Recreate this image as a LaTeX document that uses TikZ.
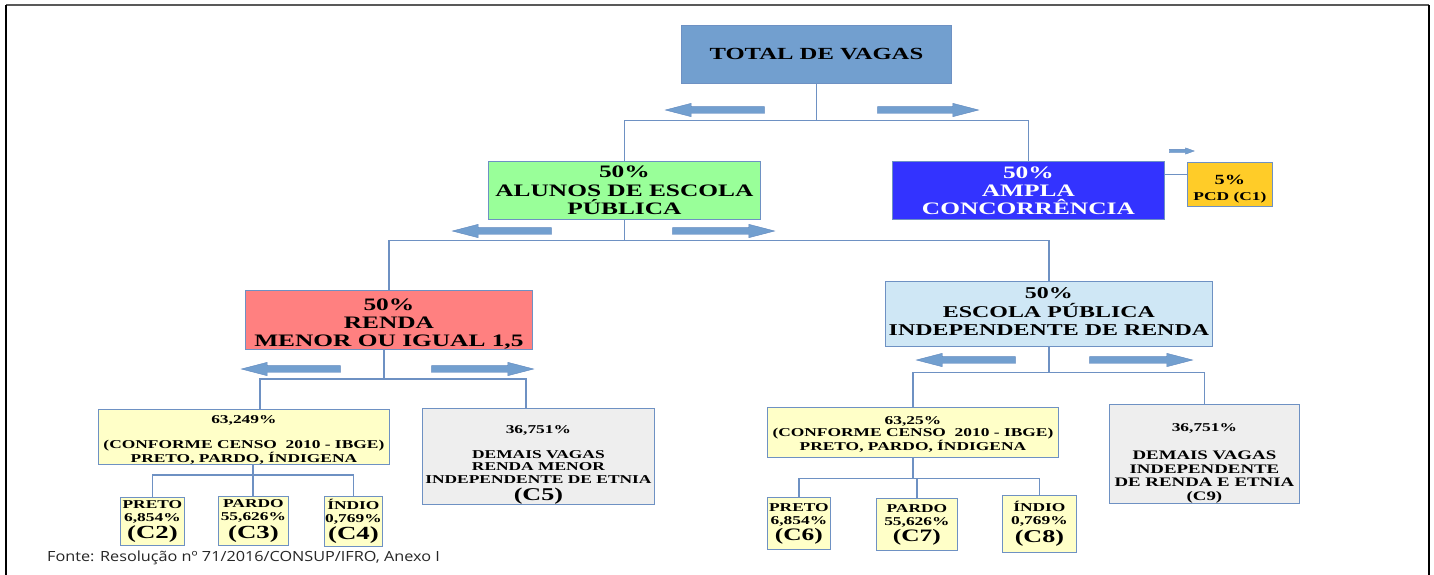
\documentclass[tikz,border=0pt]{standalone}
\usepackage{fontspec}
\setmainfont{Liberation Serif}[FakeStretch=1.45]
\newfontfamily\fontefont{Open Sans}[FakeStretch=1.16]
\usetikzlibrary{shapes.arrows}
\definecolor{cTotal}{RGB}{114,159,207}
\definecolor{cGreen}{RGB}{153,255,153}
\definecolor{cBlue}{RGB}{51,51,255}
\definecolor{cGold}{RGB}{255,204,40}
\definecolor{cRed}{RGB}{255,128,128}
\definecolor{cLBlue}{RGB}{207,231,245}
\definecolor{cYellow}{RGB}{255,255,200}
\definecolor{cGray}{RGB}{238,238,238}
\definecolor{cBorder}{RGB}{110,145,195}
\definecolor{cLine}{RGB}{110,145,195}
\definecolor{cArrow}{RGB}{114,159,207}
\definecolor{cArrowB}{RGB}{95,135,190}
\newcommand{\fs}[2]{\fontsize{#1}{#2}\selectfont}
\begin{document}
\begin{tikzpicture}[x=1pt,y=-1pt,
  box/.style={draw=cBorder, line width=0.8pt, align=center, inner sep=0pt, anchor=north west, text=black},
  conn/.style={draw=cLine, line width=1.3pt},
  barrow/.style={single arrow, fill=cArrow, draw=cArrowB, line width=0.4pt, inner sep=0pt,
     single arrow head extend=3.25pt, single arrow tip angle=29, minimum height=#1},
  sarrow/.style={single arrow, fill=cArrow, draw=cArrowB, line width=0.3pt, inner sep=0pt,
     single arrow head extend=1.5pt, single arrow tip angle=40, minimum height=#1},
  toleft/.style={shape border rotate=180}
]
\useasboundingbox (0,0) rectangle (1434,574);
\fill[white] (0,0) rectangle (1434,574);
% frame
\draw[line width=2pt, black!65] (6,5) -- (1429,5);
\draw[line width=2pt, black] (6,5) -- (6,575);
\draw[line width=2pt, black] (1429,5) -- (1429,575);

% boxes
\node[box, fill=cTotal, minimum width=270pt, minimum height=58pt, font=\fs{17}{19}\bfseries] (total) at (681,25) {TOTAL DE VAGAS};
\node[box, fill=cGreen, minimum width=272pt, minimum height=58pt, font=\fs{17.5}{18.5}\bfseries] (green) at (488,161) {50\%\\ALUNOS DE ESCOLA\\PÚBLICA};
\node[box, fill=cBlue, minimum width=272pt, minimum height=58pt, text=white, font=\fs{17.5}{18}\bfseries] (blue) at (892,161) {50\%\\AMPLA\\CONCORRÊNCIA};
\node[box, fill=cGold, minimum width=85pt, minimum height=44pt, font=\fs{12}{16.5}\bfseries] (pcd) at (1187,162) {\mbox{}\\[2.5pt]{\fs{14}{16.5}5\%}\\PCD (C1)};
\node[box, fill=cRed, minimum width=287pt, minimum height=58pt, font=\fs{17.5}{18}\bfseries] (red) at (245,290) {\mbox{}\\[2.5pt]50\%\\RENDA\\MENOR OU IGUAL 1,5};
\node[box, fill=cLBlue, minimum width=327pt, minimum height=65pt, font=\fs{16.5}{18.5}\bfseries] (lblue) at (885,281) {50\%\\ESCOLA PÚBLICA\\INDEPENDENTE DE RENDA\\[-14.5pt]\mbox{}};

\node[box, fill=cYellow, minimum width=291pt, minimum height=51pt, font=\fs{12}{12.5}\bfseries] (yl) at (98,409) {\mbox{}\\[2pt]63,249\%\\\mbox{}\\(CONFORME CENSO\ \ 2010 - IBGE)\\PRETO, PARDO, ÍNDIGENA};
\node[box, fill=cGray, minimum width=232pt, minimum height=96pt, font=\fs{12}{12.5}\bfseries] (gl) at (422,408) {\mbox{}\\[12pt]36,751\%\\\mbox{}\\DEMAIS VAGAS\\RENDA MENOR\\INDEPENDENTE DE ETNIA\\[3pt]{\fs{18}{15}(C5)}};
\node[box, fill=cYellow, minimum width=291pt, minimum height=50pt, font=\fs{12}{11.7}\bfseries] (yr) at (767,407) {\mbox{}\\[0.8pt]63,25\%\\(CONFORME CENSO\ \ 2010 - IBGE)\\PRETO, PARDO, ÍNDIGENA};
\node[box, fill=cGray, minimum width=190pt, minimum height=99pt, font=\fs{13}{13.7}\bfseries] (gr) at (1109,404) {\mbox{}\\[13pt]{\fs{12}{13.7}36,751\%}\\[1pt]\mbox{}\\DEMAIS VAGAS\\INDEPENDENTE\\DE RENDA E ETNIA\\(C9)};

\node[box, fill=cYellow, minimum width=64pt, minimum height=48pt, font=\fs{12}{13}\bfseries] (c2) at (120,497) {PRETO\\6,854\%\\[1.5pt]{\fs{18.5}{15}(C2)}};
\node[box, fill=cYellow, minimum width=70pt, minimum height=49pt, font=\fs{12}{13}\bfseries] (c3) at (218,496) {PARDO\\55,626\%\\[1.5pt]{\fs{18.5}{15}(C3)}};
\node[box, fill=cYellow, minimum width=58pt, minimum height=50pt, font=\fs{12}{13}\bfseries] (c4) at (324,496) {ÍNDIO\\0,769\%\\[1.5pt]{\fs{18.5}{15}(C4)}};
\node[box, fill=cYellow, minimum width=63pt, minimum height=52pt, font=\fs{12}{13}\bfseries] (c6) at (767,497) {PRETO\\6,854\%\\[1pt]{\fs{17.5}{15}(C6)}};
\node[box, fill=cYellow, minimum width=81pt, minimum height=52pt, font=\fs{12}{13}\bfseries] (c7) at (876,498) {PARDO\\55,626\%\\[1pt]{\fs{17.5}{15}(C7)}};
\node[box, fill=cYellow, minimum width=74pt, minimum height=57pt, font=\fs{12}{13}\bfseries] (c8) at (1002,495) {ÍNDIO\\0,769\%\\[2pt]{\fs{18}{15}(C8)}};

% connectors
\draw[conn] (total.south) -- ++(0,37) -| (green.north);
\draw[conn] (total.south) -- ++(0,37) -| (blue.north);
\path ([yshift=16pt]blue.east) coordinate (bp);
\draw[conn] (bp) -- (bp -| pcd.west);
\draw[conn] (green.south) -- ++(0,21) -| (red.north);
\draw[conn] (green.south) -- ++(0,21) -| (lblue.north);
\coordinate (r1) at (384,379);
\coordinate (ylt) at (260,409);
\coordinate (glt) at (526,408);
\draw[conn] (red.south -| r1) -- (r1) -| (ylt);
\draw[conn] (r1) -| (glt);
\draw[conn] (lblue.south) -- ++(0,26) -| (yr.north);
\draw[conn] (lblue.south) -- ++(0,26) -| (gr.north);
\coordinate (j5) at (253,475);
\draw[conn] (yl.south -| j5) -- (c3.north -| j5);
\draw[conn] (j5) -| (c2.north);
\draw[conn] (j5) -| (c4.north);
\draw[conn] (yr.south) -- ++(0,21) -| (c6.north);
\draw[conn] (yr.south) -- ++(0,21) -| (c7.north);
\draw[conn] (yr.south) -- ++(0,21) -| (c8.north);

% decorative block arrows
\node[barrow=99pt, toleft] (a1) at (721.5,110) {\rule{0pt}{6.5pt}};
\node[barrow=101pt] (a2) at (921.5,110) {\rule{0pt}{6.5pt}};
\node[barrow=99pt, toleft] (a3) at (508.5,231) {\rule{0pt}{6.5pt}};
\node[barrow=102pt] (a4) at (717,231) {\rule{0pt}{6.5pt}};
\node[barrow=99pt, toleft] (a5) at (297.5,369) {\rule{0pt}{6.5pt}};
\node[barrow=102pt] (a6) at (476,369) {\rule{0pt}{6.5pt}};
\node[barrow=99pt, toleft] (a7) at (972.5,360) {\rule{0pt}{6.5pt}};
\node[barrow=103pt] (a8) at (1134.5,360) {\rule{0pt}{6.5pt}};
\node[sarrow=25pt] (a9) at (1179.5,151) {\rule{0pt}{3pt}};

% source
\node[anchor=west, inner sep=0pt, font=\fontefont\fs{14}{16}, text=black!85] (src) at (47,558) {Fonte: Resolução nº 71/2016/CONSUP/IFRO, Anexo I};
\end{tikzpicture}
\end{document}
